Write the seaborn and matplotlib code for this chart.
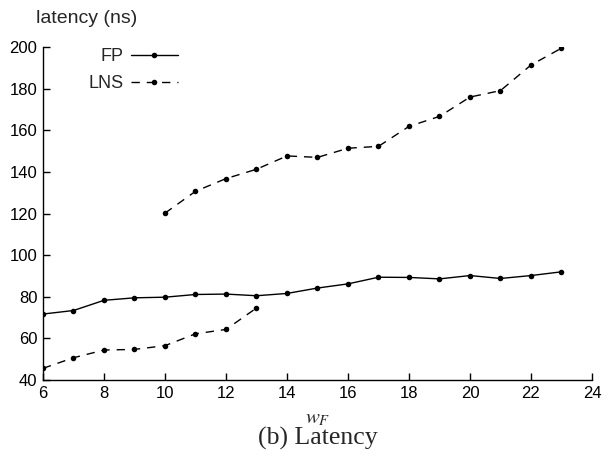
import matplotlib
matplotlib.use("Agg")
import matplotlib.pyplot as plt
import seaborn as sns
import pandas as pd

# data
fp_x = [6, 7, 8, 9, 10, 11, 12, 13, 14, 15, 16, 17, 18, 19, 20, 21, 22, 23]
fp_y = [71.7, 73.4, 78.3, 79.5, 79.8, 81.1, 81.3, 80.5, 81.6, 84.2, 86.2, 89.4,
        89.3, 88.6, 90.2, 88.8, 90.2, 92.0]
lns_low_x = [6, 7, 8, 9, 10, 11, 12, 13]
lns_low_y = [45.6, 50.7, 54.4, 54.7, 56.5, 62.2, 64.3, 74.6]
lns_high_x = [10, 11, 12, 13, 14, 15, 16, 17, 18, 19, 20, 21, 22, 23]
lns_high_y = [120.2, 130.7, 136.8, 141.3, 147.7, 147.0, 151.4, 152.3, 161.9,
              166.7, 176.0, 179.1, 191.4, 199.5]
x_ticks = [6, 8, 10, 12, 14, 16, 18, 20, 22, 24]
y_ticks = [40, 60, 80, 100, 120, 140, 160, 180, 200]

sns.set_style("ticks")
plt.rcParams["font.family"] = ["Liberation Sans", "DejaVu Sans"]
plt.rcParams["mathtext.fontset"] = "stix"

fig = plt.figure(figsize=(6.15, 4.62), dpi=100)
ax = fig.add_axes([0.0699, 0.1775, 0.8927, 0.7205])

fp_df = pd.DataFrame({"x": fp_x, "y": fp_y})
low_df = pd.DataFrame({"x": lns_low_x, "y": lns_low_y})
high_df = pd.DataFrame({"x": lns_high_x, "y": lns_high_y})

dash = (0, (6, 5))
common = dict(color="black", marker="o", markersize=4, linewidth=1.0,
              markeredgewidth=0)
sns.lineplot(data=fp_df, x="x", y="y", ax=ax, label="FP", **common)
sns.lineplot(data=low_df, x="x", y="y", ax=ax, label="LNS", linestyle=dash, **common)
sns.lineplot(data=high_df, x="x", y="y", ax=ax, label="_nolegend_", linestyle=dash, **common)

ax.set_xlim(6, 24)
ax.set_ylim(40, 200)
ax.set_xticks(x_ticks)
ax.set_yticks(y_ticks)
ax.tick_params(direction="in", length=5, width=1, labelsize=12, colors="black", pad=4)
for s in ["top", "right"]:
    ax.spines[s].set_visible(False)
for s in ["left", "bottom"]:
    ax.spines[s].set_linewidth(1)
    ax.spines[s].set_color("black")

ax.set_xlabel("$w_F$", fontsize=15, labelpad=6)
ax.set_ylabel("")
fig.text(0.058, 0.961, "latency (ns)", fontsize=14, ha="left", va="center")
fig.text(0.516, 0.05, "(b) Latency", fontsize=18.5, ha="center", va="center",
         family=["Liberation Serif", "DejaVu Serif"])

leg = ax.legend(loc="upper left", bbox_to_anchor=(0.053, 1.045), frameon=False,
                markerfirst=False, fontsize=13, handlelength=2.6,
                handletextpad=0.4, labelspacing=0.55)

fig.savefig("out.png", dpi=100)
